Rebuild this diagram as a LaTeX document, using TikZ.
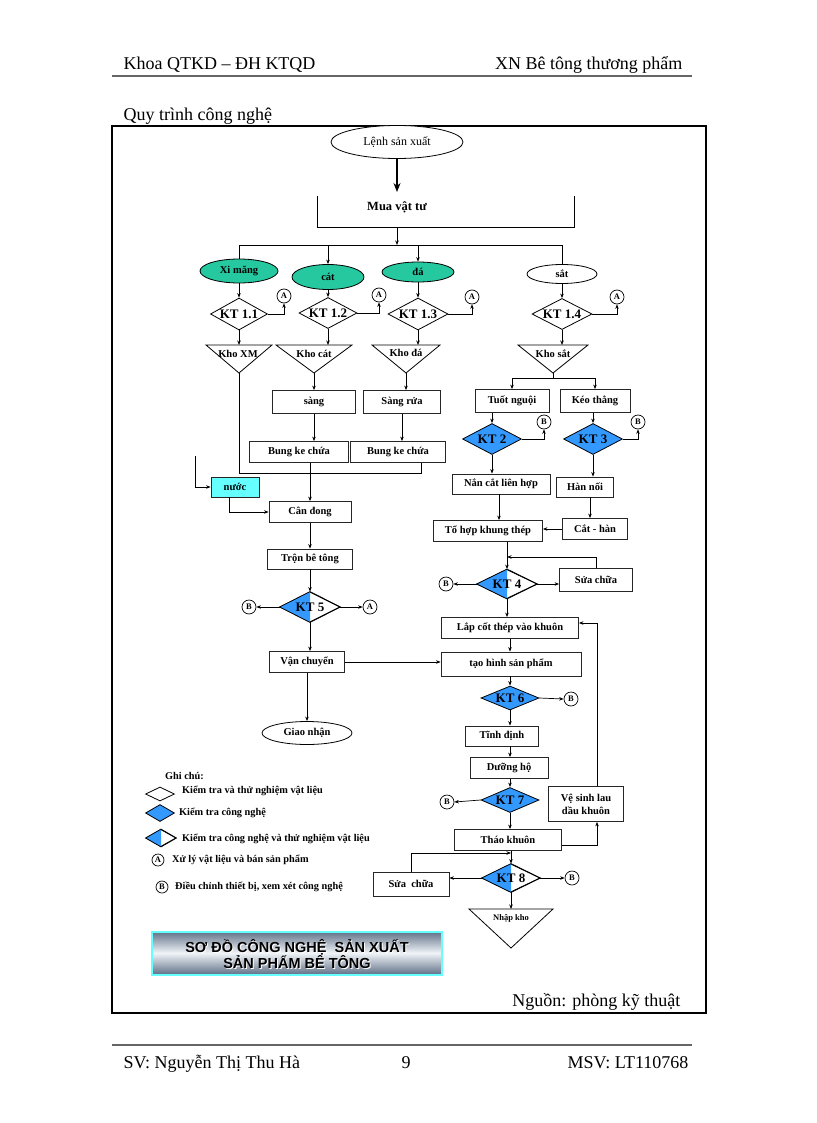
\documentclass[tikz,border=0pt]{standalone}
\usepackage{fontspec}
\setmainfont{Liberation Serif}
\newfontfamily\titlesans{Liberation Sans}
\usetikzlibrary{shapes.geometric,arrows.meta}
\definecolor{teal1}{RGB}{38,200,160}
\definecolor{kblue}{RGB}{51,153,255}
\definecolor{water}{RGB}{102,255,255}
\definecolor{ttop}{RGB}{100,116,138}
\definecolor{tmid}{RGB}{240,244,248}
\newcommand\bx{\fontsize{10.5}{12}\selectfont\bfseries}
\newcommand\ktf{\fontsize{13}{14}\selectfont\bfseries}
\newcommand\hdr{\fontsize{18}{20}\selectfont}
\newcommand\lgf{\fontsize{10.3}{11}\selectfont\bfseries}
\newcommand\myhalfdia[1]{\fill[kblue] (#1.north) -- (#1.west) -- (#1.south) -- cycle;
  \draw[line width=0.8pt] (#1.north) -- (#1.east) -- (#1.south) -- (#1.west) -- cycle;}
\begin{document}
\begin{tikzpicture}[x=1pt,y=-1pt,
  box/.style={draw=black!85, line width=0.8pt, fill=white, inner sep=1pt, font=\bx},
  dia/.style={draw, diamond, inner sep=0pt, line width=0.8pt, fill=white},
  bdia/.style={dia, fill=kblue},
  circ/.style={draw, circle, minimum size=14pt, inner sep=0pt, line width=0.7pt, fill=white, font=\fontsize{8.5}{8.5}\selectfont\bfseries},
  ell/.style={draw, ellipse, inner sep=0pt, line width=0.8pt, font=\bx},
  arr/.style={-{Stealth[length=4.5pt,width=3.5pt]}, line width=0.7pt},
  ln/.style={line width=0.7pt},
  tri/.style={line width=0.8pt},
  ktt/.style={font=\ktf, inner sep=0pt},
  lg/.style={font=\lgf, inner sep=0pt}]
\useasboundingbox (0,0) rectangle (816,1123);

% header
\node[anchor=base west,font=\hdr] (h1) at (120,70) {Khoa QTKD – ĐH KTQD};
\node[anchor=base east,font=\hdr] (h2) at (686,70) {XN Bê tông thương phẩm};
\draw[line width=2pt, black!60] (112,76) -- (692,76);
\node[anchor=base west,font=\hdr] (h3) at (120,121) {Quy trình công nghệ};
\draw[line width=1.6pt] (112,126) rectangle (706,1013);

% top
\node[ell, fill=white, minimum width=132pt, minimum height=33pt, font=\fontsize{12}{13}\selectfont] (lenh) at (397,142) {Lệnh sản xuất};
\coordinate (muain) at (397,192);
\draw[line width=1.3pt, -{Stealth[length=9pt,width=7pt]}] (lenh.south) -- (muain);
\node[minimum width=256pt, minimum height=31pt, inner sep=0pt] (mua) at (446,211.5) {};
\draw[ln] (mua.north west) -- (mua.south west) -- (mua.south east) -- (mua.north east);
\node[font=\fontsize{12.5}{13}\selectfont\bfseries] (muat) at (397,207) {Mua vật tư};
\coordinate (busm) at (397,245);
\draw[arr] (muat |- mua.south) -- (busm);
\coordinate (bus1) at (239,245);
\coordinate (bus2) at (328,245);
\coordinate (bus3) at (418,245);
\coordinate (bus4) at (562,245);
\draw[ln] (bus1) -- (bus4);

% materials
\node[ell, fill=teal1, minimum width=78pt, minimum height=24pt] (xm) at (239,271) {Xi măng};
\node[ell, fill=teal1, minimum width=72pt, minimum height=25pt] (cat) at (328,277) {cát};
\node[ell, fill=teal1, minimum width=72pt, minimum height=20pt] (da) at (418,272) {đá};
\node[ell, fill=white, minimum width=70pt, minimum height=19pt] (sat) at (562,274) {sắt};
\draw[ln] (bus1) -- (xm.north);
\draw[arr] (bus2) -- (cat.north);
\draw[arr] (bus3) -- (da.north);
\draw[ln] (bus4) -- (sat.north);

% KT 1.x
\node[dia, minimum width=57pt, minimum height=32pt] (k11) at (239,314) {};
\node[ktt] (k11t) at (k11) {KT 1.1};
\node[dia, minimum width=58pt, minimum height=31pt] (k12) at (328,313) {};
\node[ktt] (k12t) at (k12) {KT 1.2};
\node[dia, minimum width=60pt, minimum height=32pt] (k13) at (418,314) {};
\node[ktt] (k13t) at (k13) {KT 1.3};
\node[dia, minimum width=60pt, minimum height=31pt] (k14) at (562,314) {};
\node[ktt] (k14t) at (k14) {KT 1.4};
\draw[arr] (xm.south) -- (k11.north);
\draw[arr] (cat.south) -- (k12.north);
\draw[arr] (da.south) -- (k13.north);
\draw[arr] (sat.south) -- (k14.north);
\node[circ] (a1) at (284,296) {A};
\node[circ] (a2) at (379,295) {A};
\node[circ] (a3) at (472,297) {A};
\node[circ] (a4) at (617,297) {A};
\draw[arr] (k11.east) -| (a1.south);
\draw[arr] (k12.east) -| (a2.south);
\draw[arr] (k13.east) -| (a3.south);
\draw[arr] (k14.east) -| (a4.south);

% storage triangles
\coordinate (kxmtop) at (239,345); \coordinate (kxmtip) at (239,373);
\coordinate (kcattop) at (328,345); \coordinate (kcattip) at (314,373);
\coordinate (kdatop) at (418,345); \coordinate (kdatip) at (406,373);
\coordinate (ksattop) at (562,345); \coordinate (ksattip) at (553,373);
\draw[tri] (206,345) -- (272,345) -- (kxmtip) -- cycle;
\draw[tri] (276,345) -- (352,345) -- (kcattip) -- cycle;
\draw[tri] (372,345) -- (440,345) -- (kdatip) -- cycle;
\draw[tri] (518,345) -- (588,345) -- (ksattip) -- cycle;
\node[font=\bx, inner sep=0pt] (kxm) at (238,354) {Kho XM};
\node[font=\bx, inner sep=0pt] (kcat) at (314,354) {Kho cát};
\node[font=\bx, inner sep=0pt] (kda) at (406,353) {Kho đá};
\node[font=\bx, inner sep=0pt] (ksat) at (553,354) {Kho sắt};
\draw[arr] (k11.south) -- (kxmtop);
\draw[arr] (k12.south) -- (kcattop);
\draw[arr] (k13.south) -- (kdatop);
\draw[arr] (k14.south) -- (ksattop);

% aggregates
\node[box, minimum width=83pt, minimum height=23pt] (sang) at (314,402) {sàng};
\node[box, minimum width=77pt, minimum height=23pt] (sangrua) at (402,402) {Sàng rửa};
\draw[arr] (kcattip) -- (kcattip |- sang.north);
\draw[arr] (kdatip) -- (kdatip |- sangrua.north);
\node[box, minimum width=99pt, minimum height=21pt] (bk1) at (299,452) {Bung ke chứa};
\node[box, minimum width=95pt, minimum height=21pt] (bk2) at (398,452) {Bung ke chứa};
\draw[arr] (sang.south) -- (sang.south |- bk1.north);
\draw[arr] (sangrua.south) -- (sangrua.south |- bk2.north);
\coordinate (coll) at (421,473);
\draw[ln] (kxmtip) |- (coll) -- (coll |- bk2.south);

% water, weighing, mixing
\node[box, fill=water, minimum width=48pt, minimum height=20pt] (nuoc) at (235,487) {nước};
\coordinate (win) at (195,456);
\draw[arr] (win) |- (nuoc.west);
\node[box, minimum width=82pt, minimum height=21pt] (can) at (310,512) {Cân đong};
\draw[arr] ([xshift=-6pt]nuoc.south) |- (can.west);
\draw[arr] (can.north |- bk1.south) -- (can.north);
\node[box, minimum width=85pt, minimum height=20pt] (tron) at (310,559) {Trộn bê tông};
\draw[arr] (can.south) -- (tron.north);
\node[dia, minimum width=60pt, minimum height=30pt] (k5) at (310,607) {};
\myhalfdia{k5}
\node[ktt] (k5t) at (k5) {KT 5};
\draw[arr] (tron.south) -- (k5.north);
\node[circ] (b5) at (249,607) {B};
\node[circ] (a5) at (370,607) {A};
\draw[arr] (k5.west) -- (b5.east);
\draw[arr] (k5.east) -- (a5.west);
\node[box, minimum width=75pt, minimum height=21pt] (vc) at (307,662) {Vận chuyển};
\draw[arr] (k5.south) -- (k5.south |- vc.north);
\node[ell, fill=white, minimum width=90pt, minimum height=23pt] (gn) at (307,733) {Giao nhận};
\draw[arr] (vc.south) -- (gn.north);

% steel branch
\coordinate (sbus) at (553,378);
\coordinate (sbus1) at (512,378);
\coordinate (sbus2) at (595,378);
\draw[ln] (ksattip) -- (sbus);
\draw[ln] (sbus1) -- (sbus2);
\node[box, minimum width=74pt, minimum height=23pt] (tuot) at (512,401) {Tuốt nguội};
\node[box, minimum width=70pt, minimum height=23pt] (keo) at (595,401) {Kéo thẳng};
\draw[arr] (sbus1) -- (tuot.north);
\draw[arr] (sbus2) -- (keo.north);
\node[bdia, minimum width=59pt, minimum height=31pt] (k2) at (492,439) {};
\node[ktt] (k2t) at (k2) {KT 2};
\node[bdia, minimum width=59pt, minimum height=31pt] (k3) at (593,439) {};
\node[ktt] (k3t) at (k3) {KT 3};
\draw[arr] (k2.north |- tuot.south) -- (k2.north);
\draw[arr] (k3.north |- keo.south) -- (k3.north);
\node[circ] (b2) at (544,422) {B};
\node[circ] (b3) at (638,422) {B};
\draw[arr] (k2.east) -| (b2.south);
\draw[arr] (k3.east) -| (b3.south);
\node[box, minimum width=98pt, minimum height=20pt] (nan) at (501,484) {Nắn cắt liên hợp};
\node[box, minimum width=57pt, minimum height=20pt] (hn) at (585,487) {Hàn nối};
\draw[arr] (k2.south) -- (k2.south |- nan.north);
\draw[arr] (k3.south) -- (k3.south |- hn.north);
\node[box, minimum width=109pt, minimum height=21pt] (tohop) at (488,531) {Tổ hợp khung thép};
\node[box, minimum width=65pt, minimum height=21pt] (cathan) at (595,529) {Cắt - hàn};
\draw[arr] ([xshift=-2pt]nan.south) -- ([xshift=-2pt]nan.south |- tohop.north);
\draw[arr] ([xshift=5pt]hn.south) -- ([xshift=5pt]hn.south |- cathan.north);
\draw[arr] (cathan.west) -- (cathan.west -| tohop.east);

% KT4 and moulding
\node[dia, minimum width=60pt, minimum height=29pt] (k4) at (507,584) {};
\myhalfdia{k4}
\node[ktt] (k4t) at (k4) {KT 4};
\draw[arr] (k4.north |- tohop.south) -- (k4.north);
\node[box, minimum width=73pt, minimum height=23pt] (sc1) at (596,580) {Sửa chữa};
\coordinate (j4) at (507,557);
\draw[arr] (sc1.north) |- (j4);
\node[circ] (b4) at (446,584) {B};
\draw[arr] (k4.west) -- (b4.east);
\draw[arr] (k4.east) -- (sc1.west |- k4.east);
\node[box, minimum width=137pt, minimum height=21pt] (lap) at (510,628) {Lắp cốt thép vào khuôn};
\draw[arr] (k4.south) -- (k4.south |- lap.north);
\node[box, minimum width=140pt, minimum height=24pt] (th) at (511,664) {tạo hình sản phẩm};
\draw[arr] (lap.south) -- (lap.south |- th.north);
\draw[arr] (vc.east) -- (th.west |- vc.east);
\node[bdia, minimum width=58pt, minimum height=24pt] (k6) at (510,698) {};
\node[ktt] (k6t) at (k6) {KT 6};
\draw[arr] (k6.north |- th.south) -- (k6.north);
\node[circ] (b6) at (571,699) {B};
\draw[arr] (k6.east) -- (b6.west);
\node[box, minimum width=73pt, minimum height=20pt] (tinh) at (502,736) {Tĩnh định};
\draw[arr] (k6.south) -- (k6.south |- tinh.north);
\node[box, minimum width=78pt, minimum height=21pt] (duong) at (509,768) {Dưỡng hộ};
\draw[arr] (k6.south |- tinh.south) -- (k6.south |- duong.north);
\node[bdia, minimum width=58pt, minimum height=25pt] (k7) at (510,800) {};
\node[ktt] (k7t) at (k7) {KT 7};
\draw[arr] (k7.north |- duong.south) -- (k7.north);
\node[circ] (b7) at (447,802) {B};
\draw[arr] (k7.west) -- (b7.east);
\node[box, minimum width=107pt, minimum height=21pt] (thao) at (508,840) {Tháo khuôn};
\draw[arr] (k7.south) -- (k7.south |- thao.north);
\node[box, minimum width=75pt, minimum height=35pt, align=center, font=\fontsize{10.5}{13}\selectfont\bfseries] (vs) at (586,804) {Vệ sinh lau\\dầu khuôn};
\draw[arr] ([yshift=-5pt]thao.east) -| ([xshift=11pt]vs.south);
\draw[arr] ([xshift=11pt]vs.north) |- ([yshift=5pt]lap.east);

% KT8
\node[dia, minimum width=58pt, minimum height=28pt] (k8) at (511,878) {};
\myhalfdia{k8}
\node[ktt] (k8t) at (k8) {KT 8};
\draw[arr] (k8.north |- thao.south) -- (k8.north);
\node[box, minimum width=76pt, minimum height=24pt] (sc2) at (411,884) {Sửa~ chữa};
\coordinate (j8) at (511,853);
\draw[arr] (sc2.north) |- (j8);
\draw[arr] (k8.west) -- (k8.west -| sc2.east);
\node[circ] (b8) at (572,878) {B};
\draw[arr] (k8.east) -- (b8.west);
\coordinate (nktop) at (511,909);
\draw[tri] (469,909) -- (553,909) -- (511,948) -- cycle;
\node[font=\fontsize{8.5}{9}\selectfont\bfseries, inner sep=0pt] (nk) at (511,918) {Nhập kho};
\draw[arr] (k8.south) -- (nktop);

% legend
\node[anchor=base west, lg] (gc) at (165,779) {Ghi chú:};
\node[dia, minimum width=29pt, minimum height=14pt] (l1) at (160,794) {};
\node[anchor=west, lg] (l1t) at (182,791) {Kiểm tra và thử nghiệm vật liệu};
\node[bdia, minimum width=29pt, minimum height=17pt] (l2) at (160,813) {};
\node[anchor=west, lg] (l2t) at (179,813) {Kiểm tra công nghệ};
\node[dia, minimum width=30pt, minimum height=17pt] (l3) at (161,838) {};
\myhalfdia{l3}
\node[anchor=west, lg] (l3t) at (182,839) {Kiểm tra công nghệ và thử nghiệm vật liệu};
\node[circ, minimum size=12pt] (l4) at (158,860) {A};
\node[anchor=west, lg] (l4t) at (172,860) {Xử lý vật liệu và bán sản phẩm};
\node[circ, minimum size=12pt] (l5) at (162,887) {B};
\node[anchor=west, lg] (l5t) at (175,887) {Điều chỉnh thiết bị, xem xét công nghệ};

% title box (vertical gradient built from strips)
\foreach \i in {0,...,42} {
  \pgfmathsetmacro\p{100*(1-abs(\i-21)/21)}
  \fill[tmid!\p!ttop] (152,{932+\i}) rectangle (442,{933.2+\i});
}
\draw[water, line width=1.5pt] (152,932) rectangle (442,975);
\node[font=\titlesans\fontsize{14.5}{16.5}\selectfont\bfseries, align=center, white] (titles) at (298,955) {SƠ ĐỒ CÔNG NGHỆ~ SẢN XUẤT\\SẢN PHẨM BÊ TÔNG};
\node[font=\titlesans\fontsize{14.5}{16.5}\selectfont\bfseries, align=center] (title) at (297,954) {SƠ ĐỒ CÔNG NGHỆ~ SẢN XUẤT\\SẢN PHẨM BÊ TÔNG};

\node[anchor=base east,font=\hdr] (src) at (684,1006) {Nguồn: phòng kỹ thuật};

% footer
\draw[line width=1.5pt, black!60] (112,1045) -- (692,1045);
\node[anchor=base west,font=\hdr] (f1) at (120,1068) {SV: Nguyễn Thị Thu Hà};
\node[anchor=base,font=\hdr] (f2) at (406,1068) {9};
\node[anchor=base east,font=\hdr] (f3) at (692,1068) {MSV: LT110768};
\end{tikzpicture}
\end{document}
